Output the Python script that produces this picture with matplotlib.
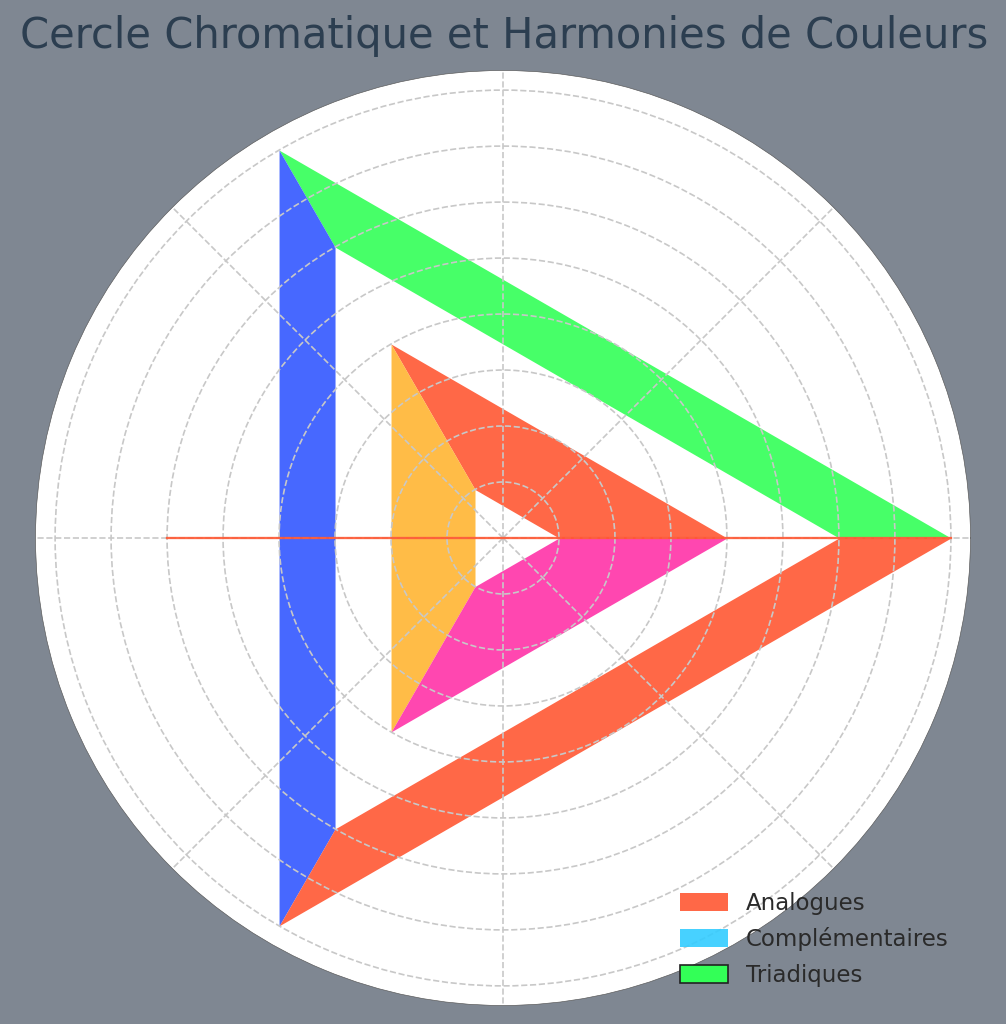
import numpy as np
import matplotlib
matplotlib.use("Agg")
import matplotlib.pyplot as plt
from matplotlib.patches import Patch

# segments of the wheel, in degrees
seg_start = [0, 120, 240]
seg_end = [120, 240, 360]

# outer ring (radius 6 -> 8) and inner ring (radius 1 -> 4)
outer_r = (6, 8)
outer_colors = ['#33FF57', '#3357FF', '#FF5733']
inner_r = (1, 4)
inner_colors = ['#FF5733', '#FFB533', '#FF33A8']

# straight line across the wheel
line_theta = [180, 0]
line_r = [6, 8]

legend_labels = ['Analogues', 'Complémentaires', 'Triadiques']
legend_colors = ['#FF5733', '#33CCFF', '#33FF57']

bg = '#7f8792'

fig = plt.figure(figsize=(1006 / 150, 1024 / 150), dpi=150, facecolor=bg)
ax = fig.add_axes([0.0353, 0.01807, 0.9294, 0.9131], projection='polar')
ax.set_facecolor('white')

for rng, cols in [(outer_r, outer_colors), (inner_r, inner_colors)]:
    for a0, a1, c in zip(seg_start, seg_end, cols):
        ax.fill_between(np.radians([a0, a1]), rng[0], rng[1],
                        color=c, alpha=0.9, linewidth=0)

ax.plot(np.radians(line_theta), line_r, color='#FF5733', alpha=0.9, lw=1.1)

ax.set_ylim(0, 8.35)
ax.set_yticks(range(1, 9))
ax.set_yticklabels([])
ax.set_xticks(np.radians(np.arange(0, 360, 45)))
ax.set_xticklabels([])
ax.tick_params(length=0)
ax.grid(True, color='#c8c8c8', linestyle='--', linewidth=0.8)
ax.spines['polar'].set_linewidth(0.3)
ax.spines['polar'].set_color('#555555')

fig.text(0.501, 1 - 48 / 1024, 'Cercle Chromatique et Harmonies de Couleurs',
         ha='center', va='baseline', fontsize=20, color='#2c3e50')

handles = [Patch(facecolor=c, alpha=0.9, linewidth=0) for c in legend_colors]
handles[2] = Patch(facecolor=legend_colors[2], edgecolor='#222222', linewidth=0.8)
leg = fig.legend(handles, legend_labels, loc='upper left',
                 bbox_to_anchor=(659 / 1006, 1 - 871 / 1024),
                 frameon=False, fontsize=11, handlelength=2.1, handleheight=0.85,
                 labelspacing=0.55)
for t in leg.get_texts():
    t.set_color('#2a2a2a')

fig.savefig('out.png', dpi=150, facecolor=bg)
